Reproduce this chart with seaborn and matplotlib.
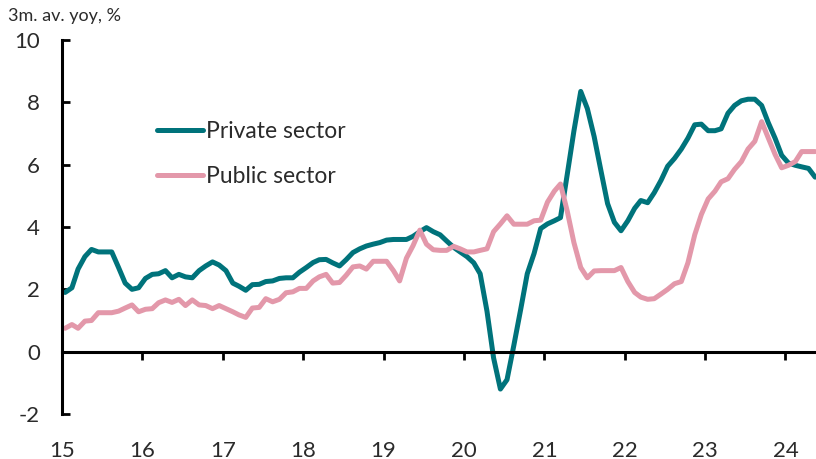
import matplotlib
matplotlib.use('Agg')
import matplotlib.pyplot as plt
import numpy as np
import pandas as pd
import seaborn as sns

# monthly, Jan 2015 - May 2024 (points sit mid-month)
months = pd.date_range('2015-01-01', periods=113, freq='MS') + pd.Timedelta(days=14)

private = [1.9, 2.05, 2.65, 3.05, 3.28, 3.2, 3.2, 3.2, 2.7, 2.2, 2.0, 2.05,
           2.35, 2.48, 2.5, 2.6, 2.37, 2.48, 2.4, 2.37, 2.6, 2.75, 2.88, 2.78,
           2.6, 2.2, 2.1, 1.97, 2.15, 2.16, 2.25, 2.27, 2.35, 2.37, 2.37, 2.55,
           2.7, 2.86, 2.95, 2.96, 2.85, 2.75, 2.95, 3.18, 3.3, 3.39, 3.45, 3.5,
           3.58, 3.6, 3.6, 3.6, 3.7, 3.85, 3.98, 3.85, 3.75, 3.55, 3.35, 3.2,
           3.05, 2.85, 2.5, 1.3, -0.2, -1.2, -0.9, 0.2, 1.35, 2.5, 3.15, 3.95,
           4.1, 4.2, 4.3, 5.7, 7.08, 8.35, 7.8, 6.9, 5.8, 4.75, 4.15, 3.88,
           4.2, 4.6, 4.85, 4.78, 5.1, 5.5, 5.95, 6.2, 6.5, 6.85, 7.28, 7.3,
           7.09, 7.09, 7.15, 7.65, 7.9, 8.05, 8.1, 8.1, 7.9, 7.35, 6.85, 6.3,
           6.05, 5.98, 5.93, 5.88, 5.6]

public = [0.75, 0.87, 0.75, 0.98, 1.0, 1.25, 1.25, 1.25, 1.3, 1.4, 1.5, 1.28,
          1.36, 1.38, 1.57, 1.66, 1.58, 1.68, 1.48, 1.66, 1.5, 1.48, 1.38, 1.48,
          1.38, 1.28, 1.18, 1.1, 1.4, 1.42, 1.7, 1.6, 1.68, 1.89, 1.92, 2.03,
          2.03, 2.27, 2.4, 2.48, 2.2, 2.22, 2.45, 2.72, 2.75, 2.65, 2.9, 2.9,
          2.9, 2.6, 2.27, 3.0, 3.4, 3.9, 3.45, 3.27, 3.25, 3.25, 3.38, 3.3,
          3.2, 3.2, 3.25, 3.3, 3.85, 4.1, 4.36, 4.09, 4.09, 4.09, 4.2, 4.22,
          4.8, 5.15, 5.38, 4.5, 3.5, 2.7, 2.37, 2.59, 2.6, 2.6, 2.6, 2.7,
          2.25, 1.9, 1.75, 1.68, 1.7, 1.85, 2.0, 2.18, 2.25, 2.85, 3.75, 4.4,
          4.9, 5.15, 5.45, 5.55, 5.85, 6.1, 6.5, 6.75, 7.38, 6.86, 6.33, 5.9,
          5.98, 6.1, 6.42, 6.42, 6.42]

labels = ['Private sector', 'Public sector']
colors = ['#00737B', '#E398AA']
years = list(range(2015, 2025))
year_labels = [str(y)[2:] for y in years]

sns.set_style('white')
plt.rcParams['font.family'] = ['Lato', 'DejaVu Sans']
plt.rcParams['axes.unicode_minus'] = False
text_col = '#2b2b2b'

df = pd.DataFrame({
    'date': np.concatenate([months, months]),
    'value': private + public,
    'series': np.repeat(labels, len(months)),
})

fig = plt.figure(figsize=(8.16, 4.59), dpi=100)
ax = fig.add_axes([62 / 816, 45 / 459, 754 / 816, 374 / 459])

sns.lineplot(data=df, x='date', y='value', hue='series', palette=colors,
             linewidth=3.6, solid_joinstyle='round', solid_capstyle='round', ax=ax)

ax.set_ylim(-2, 10)
ax.set_yticks(range(-2, 11, 2))
ax.set_xlim(pd.Timestamp('2015-01-01'), pd.Timestamp('2024-05-19'))
ax.set_xticks([pd.Timestamp(f'{y}-01-01') for y in years])
ax.set_xticklabels(year_labels)
ax.set_xlabel('')
ax.set_ylabel('')

for s in ['top', 'right']:
    ax.spines[s].set_visible(False)
ax.spines['left'].set_linewidth(2.2)
ax.spines['left'].set_color('black')
ax.spines['bottom'].set_position(('data', 0))
ax.spines['bottom'].set_linewidth(2.2)
ax.spines['bottom'].set_color('black')

ax.tick_params(axis='y', left=True, direction='in', length=6, width=2, pad=16,
               labelsize=16, labelcolor=text_col, color='black')
ax.tick_params(axis='x', bottom=True, direction='out', length=6, width=2, pad=58,
               labelsize=16, labelcolor=text_col, color='black')

handles, labs = ax.get_legend_handles_labels()
ax.legend(handles, labs, loc='upper left', bbox_to_anchor=(0.126, 0.783),
          frameon=False, fontsize=16.5, handlelength=2.0, handletextpad=0.15,
          labelspacing=1.04, borderpad=0, borderaxespad=0, labelcolor=text_col)

fig.text(8 / 816, 1 - 16 / 459, '3m. av. yoy, %', fontsize=13, va='center',
         color=text_col)

plt.savefig('out.png', dpi=100)
plt.close()
